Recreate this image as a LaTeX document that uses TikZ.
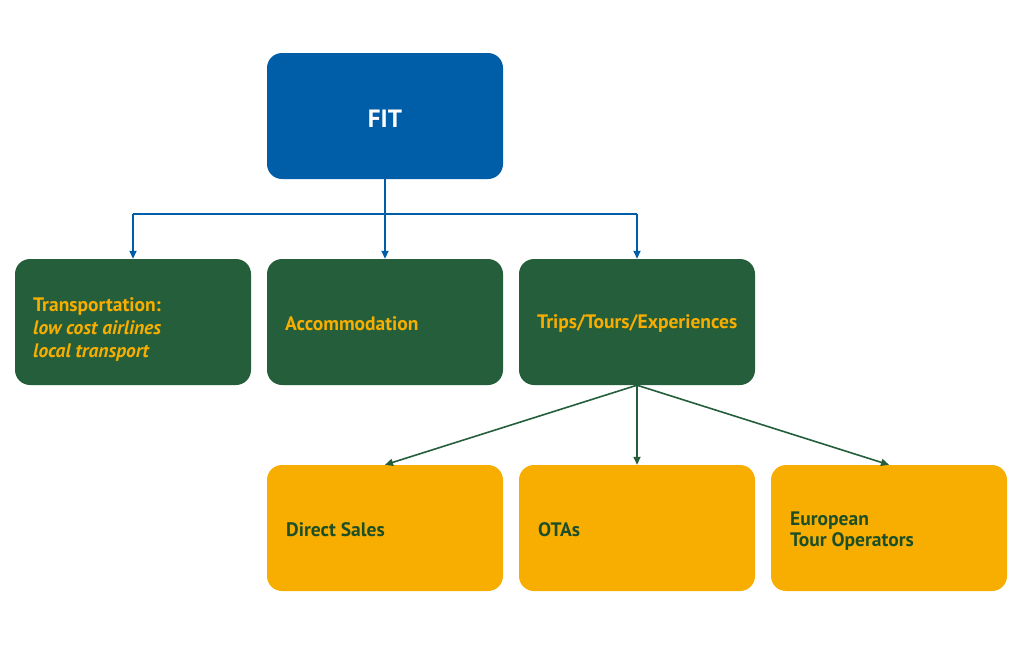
\documentclass[tikz,border=0pt]{standalone}
\usepackage{fontspec}
\setmainfont{PT Sans}
\usetikzlibrary{arrows.meta}
\definecolor{fitblue}{HTML}{005DA8}
\definecolor{dkgreen}{HTML}{255E3A}
\definecolor{gold}{HTML}{F8AE00}
\definecolor{txtgreen}{HTML}{1D4F27}
\begin{document}
\begin{tikzpicture}[x=1pt,y=-1pt,
  box/.style={rounded corners=15pt,minimum width=236pt,minimum height=126pt,inner sep=0pt},
  bluebox/.style={box,fill=fitblue},
  greenbox/.style={box,fill=dkgreen},
  goldbox/.style={box,fill=gold},
  lbl/.style={anchor=west,align=left,inner sep=0pt,font=\fontsize{19.5}{23.5}\selectfont\bfseries},
  bluecon/.style={draw=fitblue,line width=1.6pt,-{Triangle[length=8pt,width=7pt]}},
  greencon/.style={draw=dkgreen,line width=1.6pt,-{Triangle[length=8pt,width=7pt]}}]
\useasboundingbox (0,0) rectangle (1024,645);
\fill[white] (0,0) rectangle (1024,645);
% boxes
\node[bluebox] (fit) at (385,116) {};
\node[greenbox] (trans) at (133,322) {};
\node[greenbox] (acc) at (385,322) {};
\node[greenbox] (trips) at (637,322) {};
\node[goldbox] (direct) at (385,528) {};
\node[goldbox] (otas) at (637,528) {};
\node[goldbox] (euro) at (889,528) {};
% labels
\node[font=\fontsize{25}{30}\selectfont\bfseries,text=white,inner sep=0pt] (fitl) at (385,119) {FIT};
\node[lbl,text=gold] (transl) at (33,330) {Transportation:\\[-1pt]\itshape low cost airlines\\\itshape local transport};
\node[lbl,text=gold] (accl) at (285,324) {Accommodation};
\node[lbl,text=gold] (tripsl) at (537,324) {Trips/Tours/Experiences};
\node[lbl,text=txtgreen] (directl) at (286,530) {Direct Sales};
\node[lbl,text=txtgreen] (otasl) at (538,530) {OTAs};
\node[lbl,text=txtgreen] (eurol) at (790,531) {European\\[-2pt]Tour Operators};
% blue connectors
\coordinate (junc) at (385,214);
\coordinate (jl) at (133,214);
\coordinate (jr) at (637,214);
\draw[draw=fitblue,line width=1.6pt] (fit.south) -- (junc);
\draw[draw=fitblue,line width=1.6pt] (jl) -- (jr);
\draw[bluecon] (jl) -- (trans.north);
\draw[bluecon] (junc) -- (acc.north);
\draw[bluecon] (jr) -- (trips.north);
% green connectors
\draw[greencon] (trips.south) -- (direct.north);
\draw[greencon] (trips.south) -- (otas.north);
\draw[greencon] (trips.south) -- (euro.north);
\end{tikzpicture}
\end{document}
